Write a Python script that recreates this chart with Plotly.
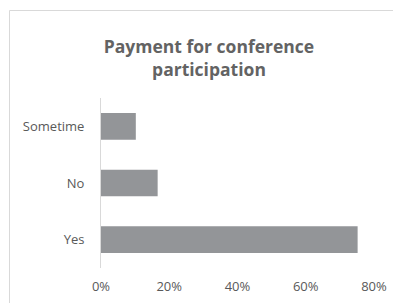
import plotly.graph_objects as go

categories = ["Yes", "No", "Sometime"]
values = [0.752, 0.166, 0.102]
tick_vals = [0, 0.2, 0.4, 0.6, 0.8]
tick_text = ["0%", "20%", "40%", "60%", "80%"]
title_text = "Payment for conference<br>participation"

# page body has an 8px margin, so the figure sits at (8, 8) in the window
OFF = 8
W, H = 401 - OFF, 303 - OFF
ml, mt = 101 - OFF, 98 - OFF
mr = W - (374 - OFF)
mb = H - (268 - OFF)
pw, ph = W - ml - mr, H - mt - mb

fig = go.Figure(go.Bar(
    y=categories, x=values, orientation="h",
    marker=dict(color="#939598", line=dict(width=0)),
    width=0.47,
))

txt = "#595959"
tick_font = dict(family="Open Sans, sans-serif", size=13, color=txt)
fig.update_layout(
    width=W, height=H,
    margin=dict(l=ml, r=mr, t=mt, b=mb, autoexpand=False),
    paper_bgcolor="white", plot_bgcolor="white",
    showlegend=False,
    font=dict(family="Open Sans, sans-serif", size=13, color=txt),
    title=dict(text=title_text, x=(209 - OFF) / W, xanchor="center", y=1 - (53 - OFF) / H,
               yanchor="middle",
               font=dict(size=17.5, color="#636363", family="Open Sans, sans-serif", weight="bold")),
    xaxis=dict(range=[0, 0.8], tickvals=tick_vals, ticktext=tick_text, showgrid=False,
               zeroline=False, showline=False, ticks="", ticklabelstandoff=9,
               tickfont=tick_font, automargin=False, fixedrange=True),
    yaxis=dict(showgrid=False, zeroline=False, showline=True, linecolor="#d9d9d9", linewidth=1,
               ticks="", ticklabelstandoff=13, tickfont=tick_font, automargin=False,
               categoryorder="array", categoryarray=categories),
)

# chart area border (left and top edges visible; right/bottom beyond the view)
x0 = (9.5 - OFF - ml) / pw
y1 = 1 + (mt - (10.5 - OFF)) / ph
x1 = (W + 20 - ml) / pw
y0 = -(mb + 20) / ph
fig.add_shape(type="rect", xref="paper", yref="paper", x0=x0, x1=x1, y0=y0, y1=y1,
              line=dict(color="#d9d9d9", width=1), fillcolor="rgba(0,0,0,0)", layer="below")

fig.write_html("out.html")
